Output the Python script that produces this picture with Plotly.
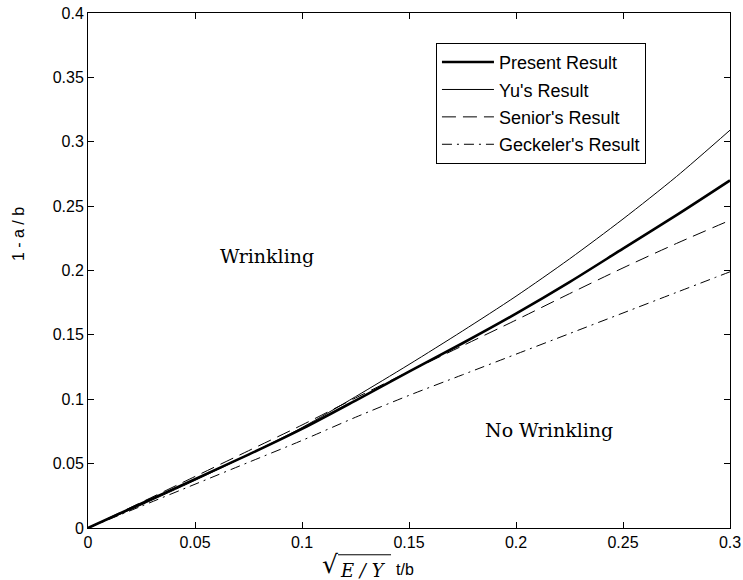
import plotly.graph_objects as go

# x = sqrt(E/Y) * t/b
x_vals = [0, 0.025, 0.05, 0.075, 0.1, 0.125, 0.15, 0.175, 0.2, 0.225, 0.25, 0.275, 0.3]
present = [0, 0.019, 0.038, 0.057, 0.077, 0.099, 0.1215, 0.1435, 0.1665, 0.191, 0.217, 0.243, 0.270]
yu = [0, 0.018, 0.037, 0.057, 0.078, 0.102, 0.127, 0.153, 0.180, 0.209, 0.240, 0.273, 0.309]
senior = [0, 0.020, 0.040, 0.060, 0.080, 0.101, 0.1215, 0.1415, 0.1615, 0.182, 0.202, 0.221, 0.239]
geckeler = [0, 0.017, 0.034, 0.051, 0.068, 0.086, 0.103, 0.119, 0.135, 0.151, 0.167, 0.183, 0.199]

series_names = ["Present Result", "Yu's Result", "Senior's Result", "Geckeler's Result"]
x_ticks = [0, 0.05, 0.1, 0.15, 0.2, 0.25, 0.3]
x_tick_text = ["0", "0.05", "0.1", "0.15", "0.2", "0.25", "0.3"]
y_ticks = [0, 0.05, 0.1, 0.15, 0.2, 0.25, 0.3, 0.35, 0.4]
y_tick_text = ["0", "0.05", "0.1", "0.15", "0.2", "0.25", "0.3", "0.35", "0.4"]

styles = [
    dict(width=2.6, dash="solid"),
    dict(width=1.0, dash="solid"),
    dict(width=1.0, dash="14px,7px"),
    dict(width=1.0, dash="10px,5px,2px,5px"),
]

fig = go.Figure()
for i, (name, ys) in enumerate(zip(series_names, [present, yu, senior, geckeler])):
    fig.add_trace(go.Scatter(
        x=x_vals, y=ys, mode="lines", name=name, legendgroup=f"g{i}",
        line=dict(color="black", shape="spline", smoothing=0.8, **styles[i]),
    ))

sans = "Liberation Sans, Arial, sans-serif"
serif = "DejaVu Serif, serif"

axis_common = dict(
    showline=True, linecolor="black", linewidth=1, mirror="ticks",
    ticks="inside", ticklen=6, tickcolor="black", showgrid=False, zeroline=False,
    automargin=False,
    tickfont=dict(family=sans, size=16, color="black"),
)

fig.update_layout(
    width=743, height=580,
    margin=dict(l=88, r=13, t=13, b=52, autoexpand=False),
    paper_bgcolor="white", plot_bgcolor="white",
    xaxis=dict(range=[0, 0.3], tickvals=x_ticks, ticktext=x_tick_text, **axis_common),
    yaxis=dict(range=[0, 0.4], tickvals=y_ticks, ticktext=y_tick_text, **axis_common),
    legend=dict(
        x=0.542, y=0.942, xanchor="left", yanchor="top",
        bordercolor="black", borderwidth=1, bgcolor="white",
        font=dict(family=sans, size=18, color="black"),
        tracegroupgap=1, itemwidth=52,
    ),
    showlegend=True,
)

fig.add_annotation(x=0.0836, y=0.211, xref="x", yref="y", text="Wrinkling",
                   showarrow=False, font=dict(family=serif, size=19, color="black"))
fig.add_annotation(x=0.2154, y=0.0758, xref="x", yref="y", text="No Wrinkling",
                   showarrow=False, font=dict(family=serif, size=19, color="black"))

# y-axis label
fig.add_annotation(x=-0.108, y=0.57, xref="paper", yref="paper", text="1 - a / b",
                   xanchor="center", yanchor="middle",
                   textangle=-90, showarrow=False,
                   font=dict(family=sans, size=16, color="black"))

# x-axis label: sqrt(E/Y) t/b
fig.add_annotation(x=0.3925, y=-0.038, xref="paper", yref="paper", xanchor="right", yanchor="top",
                   text="√", showarrow=False, font=dict(family=serif, size=25, color="black"))
fig.add_annotation(x=0.389, y=-0.058, xref="paper", yref="paper", xanchor="left", yanchor="top",
                   text="<i>E / Y</i>", showarrow=False, font=dict(family=serif, size=18, color="black"))
fig.add_annotation(x=0.476, y=-0.06, xref="paper", yref="paper", xanchor="left", yanchor="top",
                   text="t/b", showarrow=False, font=dict(family=sans, size=16, color="black"))
fig.add_shape(type="line", xref="paper", yref="paper", x0=0.3895, x1=0.472, y0=-0.052, y1=-0.052,
              line=dict(color="black", width=1))

fig.write_html("out.html")
